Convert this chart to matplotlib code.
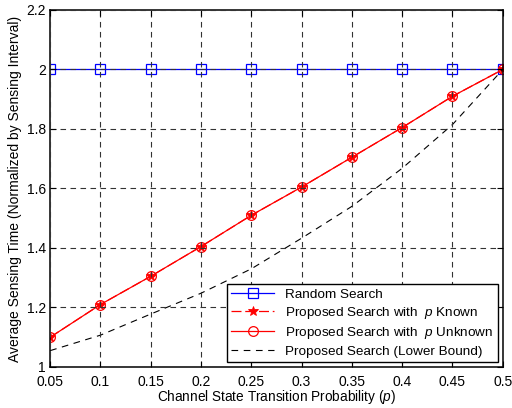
import matplotlib
matplotlib.use("Agg")
import matplotlib.pyplot as plt

plt.rcParams["font.family"] = ["Liberation Sans", "DejaVu Sans"]
plt.rcParams["mathtext.fontset"] = "custom"
plt.rcParams["mathtext.it"] = "Liberation Sans:italic"
plt.rcParams["mathtext.rm"] = "Liberation Sans"

# data
p = [0.05, 0.1, 0.15, 0.2, 0.25, 0.3, 0.35, 0.4, 0.45, 0.5]
random_search = [2.0] * 10
proposed_known = [1.10, 1.21, 1.305, 1.405, 1.51, 1.605, 1.705, 1.805, 1.91, 2.0]
proposed_unknown = [1.10, 1.21, 1.305, 1.405, 1.51, 1.605, 1.705, 1.805, 1.91, 2.0]
lower_bound = [1.055, 1.107, 1.178, 1.248, 1.33, 1.433, 1.54, 1.668, 1.815, 2.0]

xticks = [0.05, 0.1, 0.15, 0.2, 0.25, 0.3, 0.35, 0.4, 0.45, 0.5]
xticklabels = ["0.05", "0.1", "0.15", "0.2", "0.25", "0.3", "0.35", "0.4", "0.45", "0.5"]
yticks = [1.0, 1.2, 1.4, 1.6, 1.8, 2.0, 2.2]
yticklabels = ["1", "1.2", "1.4", "1.6", "1.8", "2", "2.2"]

fig = plt.figure(figsize=(5.12, 4.08), dpi=100)
ax = fig.add_axes([0.098, 0.1005, 0.884, 0.875])

ax.plot(p, random_search, color="#0000ff", lw=0.9, marker="s", ms=6.5,
        mfc="none", mec="#0000ff", mew=0.9, label="Random Search")
ax.plot(p, proposed_known, color="#ff0000", lw=0.9, ls=(0, (8, 3)), marker="*", ms=7,
        mfc="#ff0000", mec="#ff0000", mew=0.6, label="Proposed Search with  $p$ Known")
ax.plot(p, proposed_unknown, color="#ff0000", lw=0.9, marker="o", ms=7,
        mfc="none", mec="#ff0000", mew=0.9, label="Proposed Search with  $p$ Unknown")
ax.plot(p, lower_bound, color="black", lw=0.8, ls=(0, (6, 5)),
        label="Proposed Search (Lower Bound)")

ax.set_xlim(0.05, 0.5)
ax.set_ylim(1.0, 2.2)
ax.set_xticks(xticks)
ax.set_xticklabels(xticklabels, fontsize=10)
ax.set_yticks(yticks)
ax.set_yticklabels(yticklabels, fontsize=10)
ax.tick_params(direction="in", top=True, right=True, length=4, width=0.8)
ax.tick_params(axis="x", pad=6)
ax.tick_params(axis="y", pad=3)

ax.set_axisbelow(False)
ax.grid(True, color="0.2", ls=(0, (5, 4)), lw=0.8)
for s in ax.spines.values():
    s.set_linewidth(1.1)

ax.set_xlabel("Channel State Transition Probability ($p$)", fontsize=9.8, labelpad=-1)
ax.set_ylabel("Average Sensing Time (Normalized by Sensing Interval)", fontsize=10, labelpad=3)

leg = ax.legend(loc="lower right", fontsize=9.7, fancybox=False, framealpha=1,
                edgecolor="black", borderaxespad=0.35, handlelength=3.2,
                labelspacing=0.3, borderpad=0.35)
leg.get_frame().set_linewidth(1.0)

fig.savefig("out.png", dpi=100)
